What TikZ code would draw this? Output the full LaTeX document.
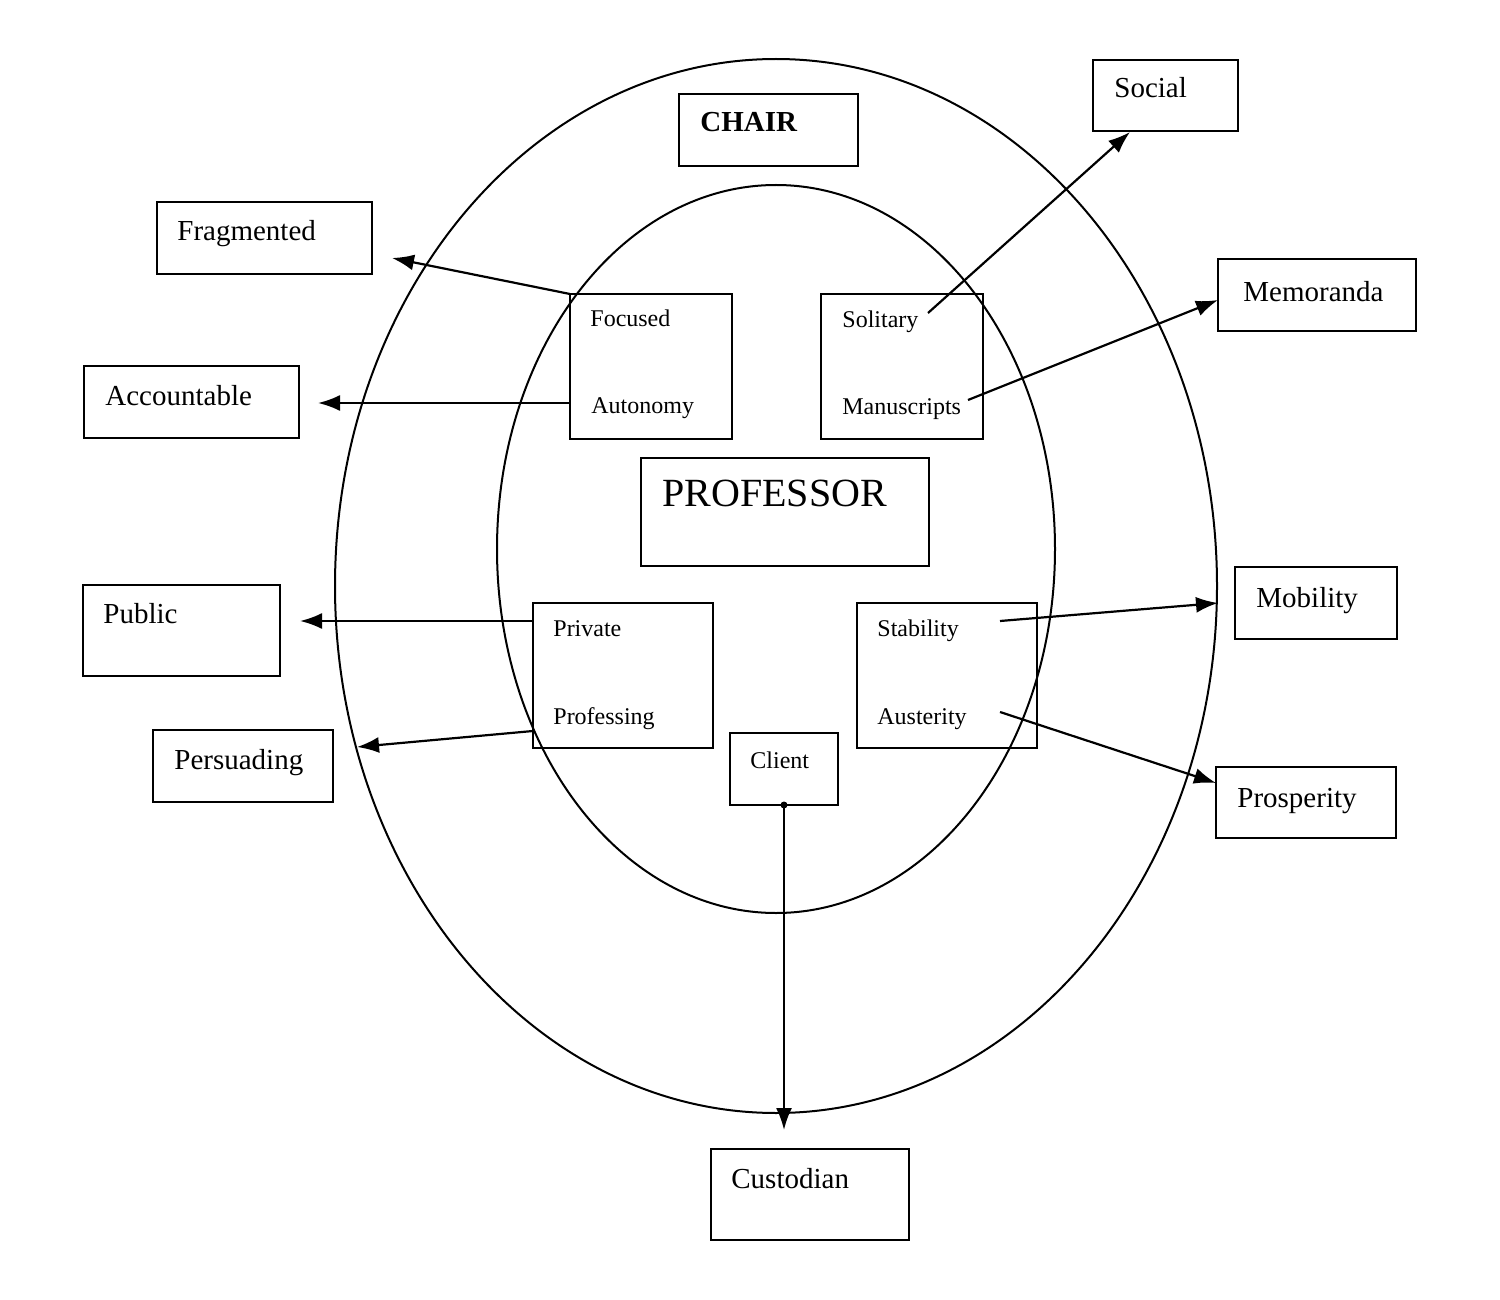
\documentclass[tikz,border=0pt]{standalone}
\usepackage{fontspec}
\setmainfont{Liberation Serif}
\usetikzlibrary{fit,arrows.meta}
\begin{document}
\begin{tikzpicture}[x=0.5pt,y=-0.5pt,
  box/.style={draw,line width=1.2pt,inner sep=0pt,rectangle},
  lbl/.style={anchor=base west,inner sep=0pt,font=\fontsize{14.5}{16}\selectfont},
  sml/.style={anchor=base west,inner sep=0pt,font=\fontsize{12}{14}\selectfont},
  ring/.style={draw,line width=1pt},
  conn/.style={line width=1.1pt,-{Latex[length=11pt,width=8pt]}}]
\useasboundingbox (0,0) rectangle (1500,1300);
% ellipses
\draw[ring] (776,586) ellipse [x radius=441,y radius=527];
\draw[ring] (776,549) ellipse [x radius=279,y radius=364];
% boxes
\node[box,fit={(679,94)(858,166)}] (chair) {};
\node[box,fit={(1093,60)(1238,131)}] (social) {};
\node[box,fit={(157,202)(372,274)}] (fragmented) {};
\node[box,fit={(1218,259)(1416,331)}] (memoranda) {};
\node[box,fit={(84,366)(299,438)}] (accountable) {};
\node[box,fit={(570,294)(732,439)}] (focused) {};
\node[box,fit={(821,294)(983,439)}] (solitary) {};
\node[box,fit={(641,458)(929,566)}] (professor) {};
\node[box,fit={(83,585)(280,676)}] (public) {};
\node[box,fit={(1235,567)(1397,639)}] (mobility) {};
\node[box,fit={(533,603)(713,748)}] (private) {};
\node[box,fit={(857,603)(1037,748)}] (stability) {};
\node[box,fit={(153,730)(333,802)}] (persuading) {};
\node[box,fit={(730,733)(838,805)}] (client) {};
\node[box,fit={(1216,767)(1396,838)}] (prosperity) {};
\node[box,fit={(711,1149)(909,1240)}] (custodian) {};
% texts
\node[lbl,font=\fontsize{14.5}{16}\selectfont\bfseries] (tchair) at (700,132) {CHAIR};
\node[lbl] (tsocial) at (1114,98) {Social};
\node[lbl] (tfrag) at (177,241) {Fragmented};
\node[lbl] (tmemo) at (1243,302) {Memoranda};
\node[lbl] (tacc) at (105,405) {Accountable};
\node[sml] (tfoc) at (590,327) {Focused};
\node[sml] (taut) at (591,414) {Autonomy};
\node[sml] (tsol) at (842,328) {Solitary};
\node[sml] (tman) at (842,415) {Manuscripts};
\node[lbl,font=\fontsize{20}{22}\selectfont] (tprof) at (662,506) {PROFESSOR};
\node[lbl] (tpub) at (103,623) {Public};
\node[lbl] (tmob) at (1256,607) {Mobility};
\node[sml] (tpriv) at (553,636) {Private};
\node[sml] (tstab) at (877,636) {Stability};
\node[sml] (tprofg) at (553,724) {Professing};
\node[sml] (taust) at (877,724) {Austerity};
\node[lbl] (tpers) at (174,769) {Persuading};
\node[sml] (tcli) at (750,768) {Client};
\node[lbl] (tpros) at (1237,807) {Prosperity};
\node[lbl] (tcust) at (731,1188) {Custodian};
% connector end points
\coordinate (sFoc) at (570,294);
\coordinate (eFrag) at (392,258);
\coordinate (sAut) at (570,403);
\coordinate (eAcc) at (318,403);
\coordinate (sSol) at (928,313);
\coordinate (eSoc) at (1130,132);
\coordinate (sMan) at (968,400);
\coordinate (eMemo) at (1218,300);
\coordinate (sPriv) at (533,621);
\coordinate (ePub) at (300,621);
\coordinate (sProfg) at (533,731);
\coordinate (ePers) at (357,747);
\coordinate (sStab) at (1000,621);
\coordinate (eMob) at (1218,603);
\coordinate (sAust) at (1000,712);
\coordinate (ePros) at (1216,783);
\coordinate (sCli) at (784,805);
\coordinate (eCust) at (784,1130);
% connectors
\draw[conn] (sFoc) -- (eFrag);
\draw[conn] (sAut) -- (eAcc);
\draw[conn] (sSol) -- (eSoc);
\draw[conn] (sMan) -- (eMemo);
\draw[conn] (sPriv) -- (ePub);
\draw[conn] (sProfg) -- (ePers);
\draw[conn] (sStab) -- (eMob);
\draw[conn] (sAust) -- (ePros);
\fill (sCli) circle (3.5);
\draw[conn] (sCli) -- (eCust);
\end{tikzpicture}
\end{document}
